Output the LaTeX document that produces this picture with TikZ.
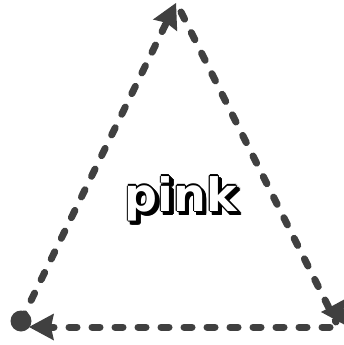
\documentclass[tikz,border=0pt]{standalone}
\usepackage{fontspec}
\newfontfamily\pinkfont{DejaVu Sans}
\usetikzlibrary{arrows.meta}
\definecolor{edgegray}{HTML}{404040}
\newcommand\pinklabel{\pinkfont\bfseries\fontsize{46}{46}\selectfont}
\begin{document}
\begin{tikzpicture}[x=1pt,y=-1pt,
  tipstyle/.style={-{Stealth[length=25pt,width=27pt,inset=3pt,line width=0pt,fill=edgegray]}},
  edge/.style={draw=edgegray, line width=7pt, line cap=round, dash pattern=on 8pt off 15pt},
  dot/.style={circle, fill=edgegray, minimum size=21pt, inner sep=0pt},
  txt/.style={anchor=base, inner sep=0pt, font=\pinklabel}]
\useasboundingbox (0,0) rectangle (343,345);
\fill[white] (0,0) rectangle (343,345);
% vertices
\node[dot] (A) at (21,321) {};
\coordinate (B) at (176,3);
\coordinate (Bs) at (181,12);
\coordinate (C) at (336,322);
\coordinate (Cb) at (330,327);
\coordinate (Al) at (29,327);
\coordinate (Ct) at (321,312);
\coordinate (Ce) at (352,312);
% edges
\draw[edge, tipstyle] (A.center) -- (B);
\draw[edge] (Bs) -- (C);
\draw[edge, tipstyle] (Cb) -- (Al);
\draw[edgegray, line width=7pt, tipstyle] (Ce) -- (Ct);
% label with shadow and outline
\foreach \dx/\dy [count=\i] in {2/2,4/2,2/4,4/4,3/3,1.8/3,4.2/3,3/1.8,3/4.2}
  \node[txt, text=black] (sh\i) at (181+\dx,211+\dy) {pink};
\foreach \dx/\dy [count=\i] in {-1.2/0,1.2/0,0/-1.2,0/1.2,-0.9/-0.9,0.9/0.9,-0.9/0.9,0.9/-0.9}
  \node[txt, text=black] (ol\i) at (181+\dx,211+\dy) {pink};
\node[txt, text=white] (label) at (181,211) {pink};
\end{tikzpicture}
\end{document}
